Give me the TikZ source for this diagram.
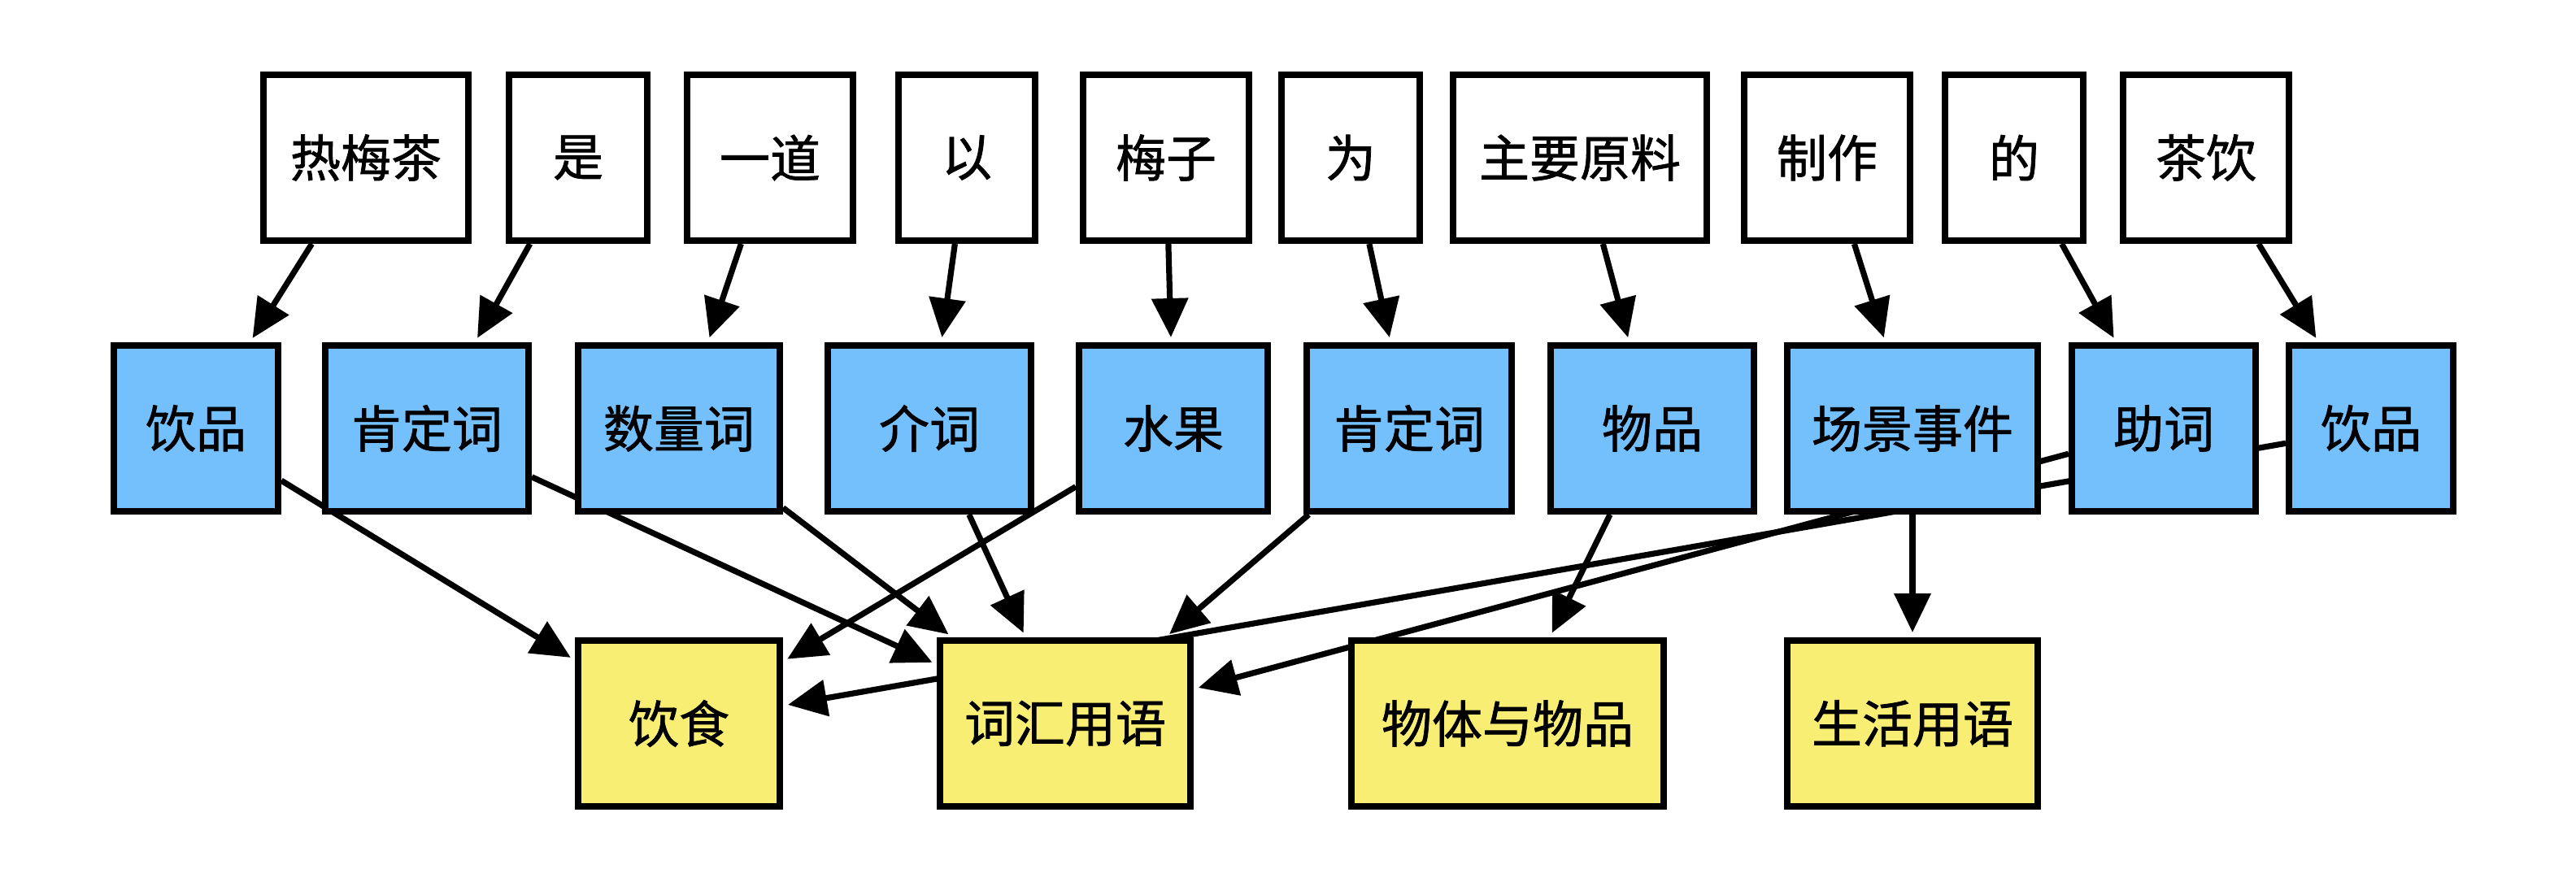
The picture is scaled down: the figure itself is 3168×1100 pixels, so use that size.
\documentclass[tikz,border=0pt]{standalone}
\usepackage{fontspec}
\newfontfamily\cjk{Noto Sans CJK SC}[FakeBold=1.2]
\usetikzlibrary{arrows.meta}
\pgfdeclarelayer{background}
\pgfsetlayers{background,main}
\definecolor{wordfill}{HTML}{FFFFFF}
\definecolor{posfill}{HTML}{74C0FC}
\definecolor{catfill}{HTML}{F9EE74}
\tikzset{
  box/.style={draw=black, line width=4pt, inner sep=0pt, minimum height=102pt,
    font=\cjk\fontsize{31}{36}\selectfont, text=black},
  wordbox/.style={box, fill=wordfill},
  posbox/.style={box, fill=posfill},
  catbox/.style={box, fill=catfill},
  link/.style={draw=black, line width=3.6pt, -{Triangle[length=24pt,width=22pt]}, shorten >=3pt},
}
\begin{document}
\begin{tikzpicture}[x=0.5pt, y=-0.5pt]
\useasboundingbox (0,0) rectangle (3168,1100);
% top row: words
\node[wordbox, minimum width=126pt] (w1) at (450,194) {热梅茶};
\node[wordbox, minimum width=85pt] (w2) at (711,194) {是};
\node[wordbox, minimum width=102pt] (w3) at (947,194) {一道};
\node[wordbox, minimum width=84pt] (w4) at (1189,194) {以};
\node[wordbox, minimum width=102pt] (w5) at (1434,194) {梅子};
\node[wordbox, minimum width=85pt] (w6) at (1661,194) {为};
\node[wordbox, minimum width=156pt] (w7) at (1943,194) {主要原料};
\node[wordbox, minimum width=102pt] (w8) at (2247,194) {制作};
\node[wordbox, minimum width=85pt] (w9) at (2477,194) {的};
\node[wordbox, minimum width=102pt] (w10) at (2713,194) {茶饮};
% middle row: parts of speech
\node[posbox, minimum width=101pt] (p1) at (241,527) {饮品};
\node[posbox, minimum width=125pt] (p2) at (525,527) {肯定词};
\node[posbox, minimum width=124pt] (p3) at (835,527) {数量词};
\node[posbox, minimum width=125pt] (p4) at (1143,527) {介词};
\node[posbox, minimum width=116pt] (p5) at (1443,527) {水果};
\node[posbox, minimum width=126pt] (p6) at (1733,527) {肯定词};
\node[posbox, minimum width=125pt] (p7) at (2032,527) {物品};
\node[posbox, minimum width=154pt] (p8) at (2352,527) {场景事件};
\node[posbox, minimum width=113pt] (p9) at (2661,527) {助词};
\node[posbox, minimum width=101pt] (p10) at (2916,527) {饮品};
% bottom row: categories
\node[catbox, minimum width=124pt] (c1) at (835,890) {饮食};
\node[catbox, minimum width=154pt] (c2) at (1310,890) {词汇用语};
\node[catbox, minimum width=192pt] (c3) at (1854,890) {物体与物品};
\node[catbox, minimum width=154pt] (c4) at (2352,890) {生活用语};
\begin{pgfonlayer}{background}
\draw[link] (w1) -- (p1);
\draw[link] (w2) -- (p2);
\draw[link] (w3) -- (p3);
\draw[link] (w4) -- (p4);
\draw[link] (w5) -- (p5);
\draw[link] (w6) -- (p6);
\draw[link] (w7) -- (p7);
\draw[link] (w8) -- (p8);
\draw[link] (w9) -- (p9);
\draw[link] (w10) -- (p10);
\draw[link] (p1) -- (c1);
\draw[link] (p2) -- (c2);
\draw[link] (p3) -- (c2);
\draw[link] (p4) -- (c2);
\draw[link] (p5) -- (c1);
\draw[link] (p6) -- (c2);
\draw[link] (p7) -- (c3);
\draw[link] (p8) -- (c4);
\draw[link] (p9) -- (c2);
\draw[link] (p10) -- (c1);
\end{pgfonlayer}
\end{tikzpicture}
\end{document}
